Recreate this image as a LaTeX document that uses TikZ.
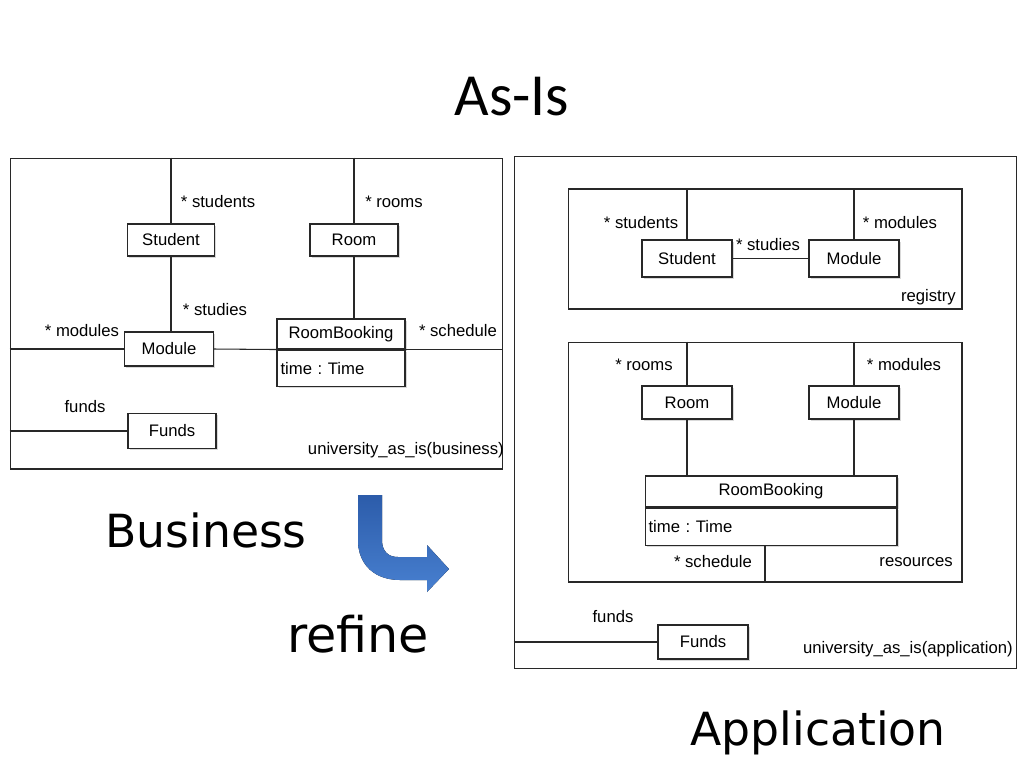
\documentclass[tikz,border=0pt]{standalone}
\usepackage{fontspec}
\setmainfont{Liberation Sans}
\newfontfamily\titlefont{Carlito}
\newfontfamily\handfont{DejaVu Sans}
\usetikzlibrary{positioning,shadows,calc}
\definecolor{arrowtop}{RGB}{44,92,170}
\definecolor{arrowbot}{RGB}{72,128,208}
\definecolor{umlline}{RGB}{40,40,40}
\newcommand{\umlfont}{\fontsize{9.5}{11}\selectfont\frenchspacing}

\begin{document}
\begin{tikzpicture}[x=0.02cm, y=-0.02cm,
  line width=0.6pt,
  pkg/.style={draw=umlline, inner sep=0pt},
  umlclass/.style={draw=umlline, fill=white, inner sep=0pt, minimum width=1.76cm, minimum height=0.66cm, font=\umlfont,
    drop shadow={shadow xshift=0.9pt, shadow yshift=-0.9pt, fill=black!15, opacity=1}},
  umlattr/.style={umlclass, inner xsep=0.07cm, align=left},
  role/.style={font=\umlfont, inner sep=1pt},
  assoc/.style={draw=umlline},
  bigtext/.style={font=\handfont\fontsize{26}{30}\selectfont}
]
\useasboundingbox (0,0) rectangle (1024,768);

\node[font=\titlefont\fontsize{34}{38}\selectfont] (title) at (512,97) {As-Is};

% business view
\node[pkg, minimum width=9.86cm, minimum height=6.22cm] (frameL) at (256.5,313.5) {};
\node[umlclass, minimum width=1.74cm, minimum height=0.64cm] (stud) at (171,240) {Student};
\node[umlclass, minimum height=0.64cm] (room) at (354,240) {Room};
\node[umlclass, minimum width=1.78cm, minimum height=0.68cm] (mod) at (169,349) {Module};
\node[umlclass, minimum width=2.56cm, minimum height=0.6cm] (rbTop) at (341,334) {RoomBooking};
\node[umlattr, text width=2.42cm, minimum height=0.72cm, below=0pt of rbTop] (rbBot) {time : Time};
\node[umlclass, minimum height=0.7cm] (funds) at (172,431) {Funds};

\draw[assoc] (frameL.north -| stud.north) -- (stud.north);
\draw[assoc] (stud.south) -- (stud.south |- mod.north);
\draw[assoc] (frameL.west |- mod.west) -- (mod.west);
\draw[assoc] (mod.east) -- (rbTop.south west);
\draw[assoc] (rbTop.south east) -- (rbTop.south east -| frameL.east);
\draw[assoc] (frameL.north -| room.north) -- (room.north);
\draw[assoc] (room.south) -- (room.south |- rbTop.north);
\draw[assoc] (frameL.west |- funds.west) -- (funds.west);

\node[role] at (218,202) {* students};
\node[role] at (394,202) {* rooms};
\node[role] at (215,310) {* studies};
\node[role] at (82,331) {* modules};
\node[role] at (458,331) {* schedule};
\node[role] at (85,407) {funds};
\node[role, anchor=east] at (506,450) {university\_as\_is(business)};

% application view
\node[pkg, minimum width=10.06cm, minimum height=10.26cm] (frameR) at (765.5,412.5) {};
\node[pkg, minimum width=7.88cm, minimum height=2.4cm] (regPkg) at (765,249) {};
\node[pkg, minimum width=7.88cm, minimum height=4.8cm] (resPkg) at (765,462) {};

\node[umlclass, minimum width=1.8cm, minimum height=0.74cm] (stud2) at (687,258.5) {Student};
\node[umlclass, minimum width=1.8cm, minimum height=0.74cm] (mod2) at (854,258.5) {Module};
\draw[assoc] (regPkg.north -| stud2.north) -- (stud2.north);
\draw[assoc] (regPkg.north -| mod2.north) -- (mod2.north);
\draw[assoc] (stud2.east) -- (mod2.west);
\node[role] at (641,223) {* students};
\node[role] at (768,245) {* studies};
\node[role] at (900,223) {* modules};
\node[role, anchor=east] at (958,297) {registry};

\node[umlclass, minimum width=1.8cm] (room2) at (687,402.5) {Room};
\node[umlclass, minimum width=1.8cm] (mod3) at (854,402.5) {Module};
\node[umlclass, minimum width=5.04cm, minimum height=0.62cm] (rb2Top) at (771,491.5) {RoomBooking};
\node[umlattr, text width=4.9cm, minimum height=0.74cm, below=0pt of rb2Top] (rb2Bot) {time : Time};
\draw[assoc] (resPkg.north -| room2.north) -- (room2.north);
\draw[assoc] (resPkg.north -| mod3.north) -- (mod3.north);
\draw[assoc] (room2.south) -- (room2.south |- rb2Top.north);
\draw[assoc] (mod3.south) -- (mod3.south |- rb2Top.north);
\draw[assoc] (resPkg.south |- rb2Bot.south) -- (resPkg.south);
\node[role] at (644,365) {* rooms};
\node[role] at (904,365) {* modules};
\node[role] at (713,562) {* schedule};
\node[role, anchor=east] at (955,562) {resources};

\node[umlclass, minimum width=1.8cm, minimum height=0.68cm] (funds2) at (703,642) {Funds};
\draw[assoc] (frameR.west |- funds2.west) -- (funds2.west);
\node[role] at (613,617) {funds};
\node[role, anchor=east] at (1015,649) {university\_as\_is(application)};

% refine arrow
\fill[top color=arrowtop, bottom color=arrowbot] (358,495) -- (382,495) -- (382,540)
  .. controls (382,551) and (388,557) .. (398,557) -- (427,557) -- (427,545) -- (449,569)
  -- (427,592) -- (427,580) -- (400,580) .. controls (376,580) and (358,566) .. (358,540) -- cycle;

\node[bigtext] (business) at (206,530) {Business};
\node[bigtext, font=\handfont\fontsize{28}{32}\selectfont] (refine) at (358,634) {refine};
\node[bigtext] (application) at (818,733) {Application};
\end{tikzpicture}
\end{document}
